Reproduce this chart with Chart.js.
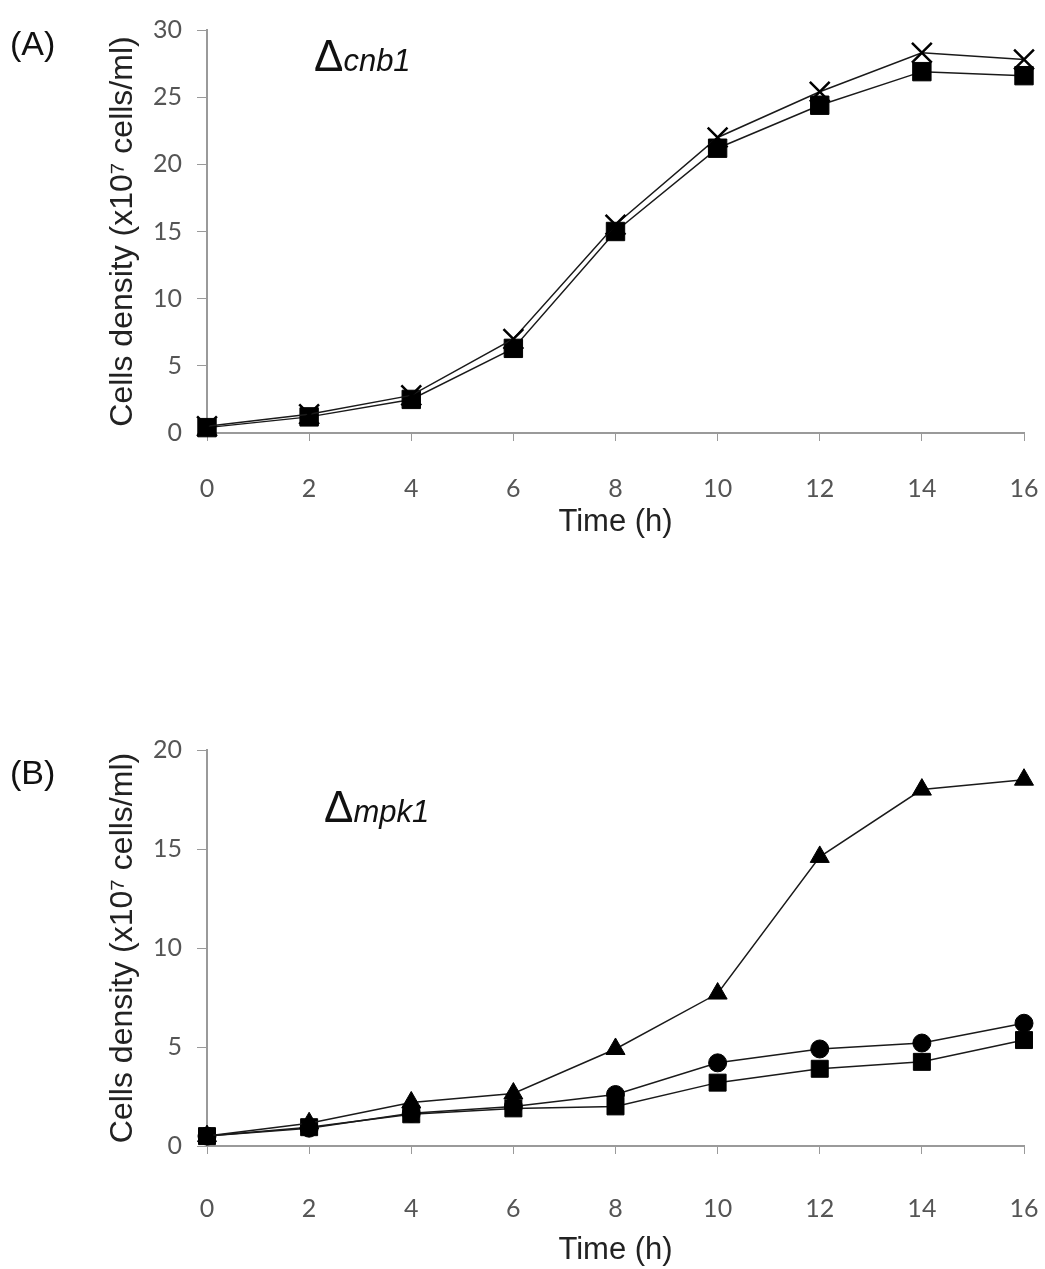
<!DOCTYPE html>
<html>
<head>
<meta charset="utf-8">
<script src="https://cdn.jsdelivr.net/npm/chart.js@4.4.0/dist/chart.umd.min.js"></script>
<style>
    body { margin: 0; background: #fff; width: 1045px; height: 1269px; position: relative; overflow: hidden; }
    canvas { position: absolute; left: 0; }
    #chartA { top: 0; }
    #chartB { top: 720px; }
    .label { position: absolute; font-family: "Liberation Sans", Arial, sans-serif; color: #111; white-space: nowrap; }
    .panel { font-size: 34px; line-height: 34px; }
    .gene { font-size: 44px; line-height: 44px; height: 44px; }
    .gene i { font-size: 31px; font-style: italic; }
</style>
</head>
<body>
<canvas id="chartA" width="1045" height="545"></canvas>
<canvas id="chartB" width="1045" height="549"></canvas>
<div class="label panel" style="left:10px; top:26px;">(A)</div>
<div class="label gene" style="left:314px; top:34px;">Δ<i>cnb1</i></div>
<div class="label panel" style="left:10px; top:755px;">(B)</div>
<div class="label gene" style="left:324px; top:785px;">Δ<i>mpk1</i></div>

<script>
document.addEventListener("DOMContentLoaded", () => {
    // === DATA ===
    const timeH = [0, 2, 4, 6, 8, 10, 12, 14, 16];

    // panel A (cnb1)
    const cnb1Cross = [0.5, 1.4, 2.8, 7.0, 15.5, 22.0, 25.4, 28.3, 27.8];
    const cnb1Square = [0.4, 1.2, 2.5, 6.3, 15.0, 21.2, 24.4, 26.9, 26.6];
    const ticksA = [0, 5, 10, 15, 20, 25, 30];

    // panel B (mpk1)
    const mpk1Triangle = [0.5, 1.15, 2.2, 2.65, 4.9, 7.7, 14.6, 18.0, 18.5];
    const mpk1Circle = [0.5, 0.9, 1.65, 2.0, 2.6, 4.2, 4.9, 5.2, 6.2];
    const mpk1Square = [0.5, 0.95, 1.6, 1.9, 2.0, 3.2, 3.9, 4.25, 5.35];
    const ticksB = [0, 5, 10, 15, 20];

    const xTicks = [0, 2, 4, 6, 8, 10, 12, 14, 16];

    const yTitle = "Cells density (x10⁷ cells/ml)";
    const axisGray = "#9a9a9a";
    const tickFont = { family: "Lato, 'Open Sans', sans-serif", size: 25 };
    const titleFont = { family: "'Liberation Sans', Arial, sans-serif", size: 31 };
    const yTitleFont = { family: "'Liberation Sans', Arial, sans-serif", size: 32 };

    function points(values) {
        return values.map((v, i) => ({ x: timeH[i], y: v }));
    }

    function series(values, style, radius, lineW) {
        return {
            data: points(values),
            borderColor: "#1a1a1a",
            borderWidth: 1.5,
            pointStyle: style,
            pointRadius: radius,
            pointHoverRadius: radius,
            pointBackgroundColor: "#000",
            pointBorderColor: "#000",
            pointBorderWidth: lineW,
            clip: false,
            tension: 0,
        };
    }

    function makeChart(id, datasets, yMax, yTicks, bottomHeight, labelPad, titlePadBottom) {
        const ctx = document.getElementById(id).getContext("2d");
        return new Chart(ctx, {
            type: "line",
            data: { datasets },
            options: {
                responsive: false,
                animation: false,
                devicePixelRatio: 1,
                layout: { padding: { top: 28, right: 21, left: 0, bottom: 0 } },
                plugins: { legend: { display: false }, tooltip: { enabled: false } },
                scales: {
                    x: {
                        type: "linear",
                        min: 0,
                        max: 16,
                        afterFit: (scale) => {
                            scale.height = bottomHeight;
                            scale.paddingRight = 0;
                            scale.paddingLeft = 0;
                        },
                        afterBuildTicks: (scale) => { scale.ticks = xTicks.map((v) => ({ value: v })); },
                        grid: { drawOnChartArea: false, drawTicks: true, tickLength: 8, color: axisGray, lineWidth: 1 },
                        border: { display: true, color: axisGray, width: 2 },
                        ticks: { color: "#555", font: tickFont, padding: labelPad, maxRotation: 0 },
                        title: { display: true, text: "Time (h)", color: "#222", font: titleFont, padding: { top: 0, bottom: titlePadBottom } },
                    },
                    y: {
                        min: 0,
                        max: yMax,
                        afterFit: (scale) => { scale.width = 207; },
                        afterBuildTicks: (scale) => { scale.ticks = yTicks.map((v) => ({ value: v })); },
                        grid: { drawOnChartArea: false, drawTicks: true, tickLength: 10, color: axisGray, lineWidth: 1 },
                        border: { display: true, color: axisGray, width: 2 },
                        ticks: { color: "#555", font: tickFont, padding: 15 },
                        title: { display: true, text: yTitle, color: "#222", font: yTitleFont, padding: { top: 104, bottom: 0 } },
                    },
                },
            },
        });
    }

    // === PANEL A ===
    makeChart("chartA", [
        series(cnb1Cross, "crossRot", 14, 2.5),
        series(cnb1Square, "rect", 13, 1),
    ], 30, ticksA, 112, 33, 4);

    // === PANEL B ===
    makeChart("chartB", [
        series(mpk1Triangle, "triangle", 11, 1),
        series(mpk1Circle, "circle", 9, 1),
        series(mpk1Square, "rect", 12, 1),
    ], 20, ticksB, 123, 40, 0);
});
</script>
</body>
</html>
